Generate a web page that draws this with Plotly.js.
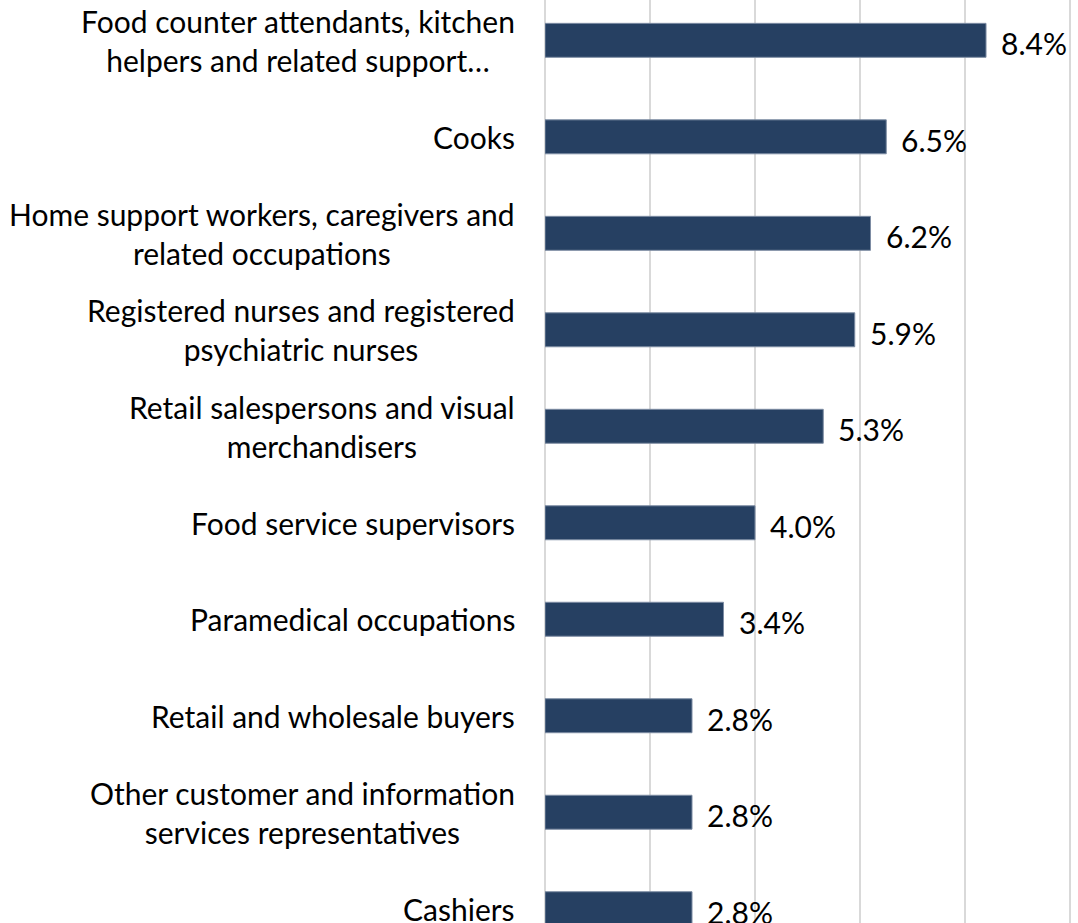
<!DOCTYPE html>
<html>
<head>
<meta charset="utf-8">
<script src="https://cdn.plot.ly/plotly-3.0.1.min.js"></script>
<style>html,body{margin:0;padding:0;background:#fff;}#chart{width:1078px;height:923px;}</style>
</head>
<body>
<div id="chart"></div>
<script>
const categories = [
  "Food counter attendants, kitchen<br>helpers and related support…",
  "Cooks",
  "Home support workers, caregivers and<br>related occupations",
  "Registered nurses and registered<br>psychiatric nurses",
  "Retail salespersons and visual<br>merchandisers",
  "Food service supervisors",
  "Paramedical occupations",
  "Retail and wholesale buyers",
  "Other customer and information<br>services representatives",
  "Cashiers"
];
const values = [8.4, 6.5, 6.2, 5.9, 5.3, 4.0, 3.4, 2.8, 2.8, 2.8];
const valueLabels = ["8.4%", "6.5%", "6.2%", "5.9%", "5.3%", "4.0%", "3.4%", "2.8%", "2.8%", "2.8%"];

const FONT = "Lato, 'Open Sans', sans-serif";
const FS = 30;

const trace = {
  type: 'bar',
  orientation: 'h',
  x: values,
  y: categories,
  width: 0.352,
  marker: {color: '#264062', line: {color: '#7d8ca3', width: 1}},
  hoverinfo: 'skip'
};

const annotations = [];
categories.forEach((c, i) => {
  annotations.push({
    xref: 'paper', yref: 'y', x: 0, y: c,
    text: c, showarrow: false, xanchor: 'right', yanchor: 'middle',
    align: 'center', xshift: -28,
    font: {family: FONT, size: FS, color: '#000'}
  });
  annotations.push({
    xref: 'x', yref: 'y', x: values[i], y: c,
    text: valueLabels[i], showarrow: false, xanchor: 'left', yanchor: 'middle',
    xshift: 13, yshift: -3,
    font: {family: FONT, size: FS, color: '#000'}
  });
});

const layout = {
  width: 1078, height: 923,
  margin: {l: 545, r: 0, t: 0, b: 0, pad: 0},
  paper_bgcolor: '#fff', plot_bgcolor: '#fff',
  showlegend: false,
  bargap: 0,
  xaxis: {
    range: [0, 10.152], dtick: 2, tick0: 0,
    showgrid: true, gridcolor: '#d9d9d9', gridwidth: 2,
    zeroline: true, zerolinecolor: '#d9d9d9', zerolinewidth: 2,
    showticklabels: false, showline: false, fixedrange: true
  },
  yaxis: {
    type: 'category', categoryarray: categories, categoryorder: 'array',
    range: [9.148, -0.418],
    showticklabels: false, showgrid: false, zeroline: false, showline: false
  },
  annotations: annotations
};

Plotly.newPlot('chart', [trace], layout, {staticPlot: true, displayModeBar: false});
</script>
</body>
</html>
